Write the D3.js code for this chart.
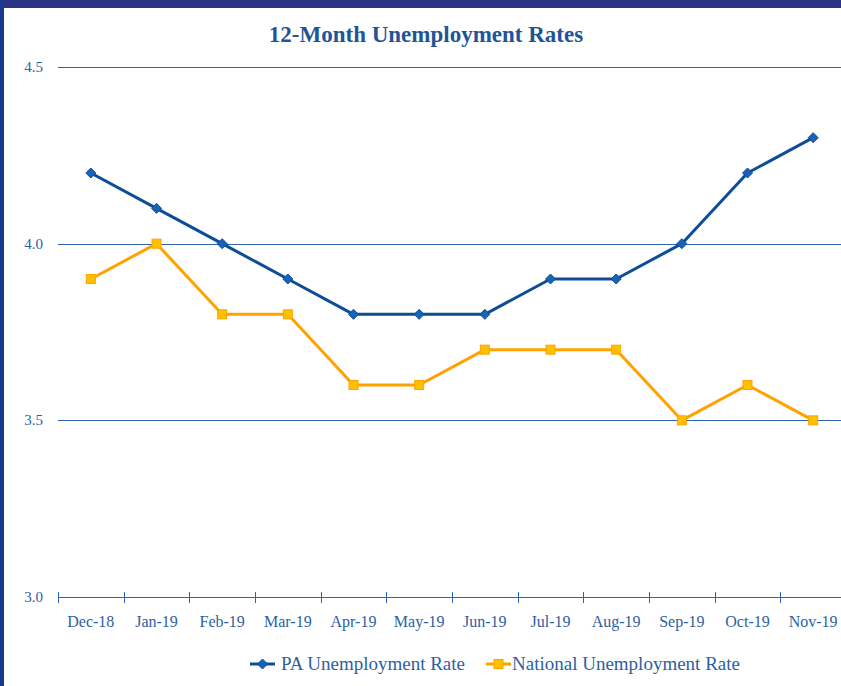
<!DOCTYPE html>
<html>
<head>
<meta charset="utf-8">
<script src="https://cdn.jsdelivr.net/npm/d3@7"></script>
<style>
  body { margin: 0; background: #fff; }
  text { font-family: "Liberation Serif", serif; }
</style>
</head>
<body>
<div id="chart"></div>
<script>
const width = 841;
const height = 686;

// data
const months = ["Dec-18", "Jan-19", "Feb-19", "Mar-19", "Apr-19", "May-19",
  "Jun-19", "Jul-19", "Aug-19", "Sep-19", "Oct-19", "Nov-19"];
const paRate = [4.2, 4.1, 4.0, 3.9, 3.8, 3.8, 3.8, 3.9, 3.9, 4.0, 4.2, 4.3];
const nationalRate = [3.9, 4.0, 3.8, 3.8, 3.6, 3.6, 3.7, 3.7, 3.7, 3.5, 3.6, 3.5];
const yTicks = [3.0, 3.5, 4.0, 4.5];
const seriesNames = ["PA Unemployment Rate", "National Unemployment Rate"];

const textColor = "#2d5fa3";
const gridColor = "#2f65a8";
const paLine = "#0d4d98", paMark = "#1763b8";
const natLine = "#ffa200", natMark = "#ffc000";

const svg = d3.select("#chart").append("svg")
  .attr("width", width)
  .attr("height", height);

// frame
svg.append("rect").attr("x", 0).attr("y", 0).attr("width", width).attr("height", 8).attr("fill", "#2b3185");
svg.append("rect").attr("x", 0).attr("y", 0).attr("width", 4).attr("height", height).attr("fill", "#173a8c");

const x = d3.scaleBand().domain(months).range([58, 846]);
const y = d3.scaleLinear().domain([3.0, 4.5]).range([597, 67]);

// title
svg.append("text")
  .attr("x", 426).attr("y", 42)
  .attr("text-anchor", "middle")
  .attr("font-size", 23).attr("font-weight", "bold")
  .attr("fill", "#1f5597")
  .text("12-Month Unemployment Rates");

// gridlines
svg.append("g").selectAll("line")
  .data(yTicks.filter(d => d > 3.0))
  .join("line")
  .attr("x1", 58).attr("x2", width)
  .attr("y1", d => Math.round(y(d)) + 0.5).attr("y2", d => Math.round(y(d)) + 0.5)
  .attr("stroke", gridColor).attr("stroke-width", 1);

// y labels
svg.append("g").selectAll("text")
  .data(yTicks)
  .join("text")
  .attr("x", 43).attr("y", d => y(d) + 5)
  .attr("text-anchor", "end")
  .attr("font-size", 15)
  .attr("fill", textColor)
  .text(d => d.toFixed(1));

// x axis
const xAxis = svg.append("g");
xAxis.append("line")
  .attr("x1", 58).attr("x2", width)
  .attr("y1", 597.5).attr("y2", 597.5)
  .attr("stroke", gridColor);
const tickPos = months.map(m => x(m));
xAxis.selectAll(".tick")
  .data(tickPos)
  .join("line")
  .attr("class", "tick")
  .attr("x1", d => Math.round(d) + 0.5).attr("x2", d => Math.round(d) + 0.5)
  .attr("y1", 592).attr("y2", 603)
  .attr("stroke", gridColor);
xAxis.selectAll("text")
  .data(months)
  .join("text")
  .attr("x", d => x(d) + x.bandwidth() / 2)
  .attr("y", 627)
  .attr("text-anchor", "middle")
  .attr("font-size", 16)
  .attr("fill", textColor)
  .text(d => d);

const cx = (d, i) => x(months[i]) + x.bandwidth() / 2;
const line = d3.line().x(cx).y(d => y(d));

// diamond marker: a square turned 45 degrees
const r = 5;
const diamondPath = `M0,${-r}L${r},0L0,${r}L${-r},0Z`;

// national series
svg.append("path").datum(nationalRate)
  .attr("d", line).attr("fill", "none")
  .attr("stroke", natLine).attr("stroke-width", 3).attr("stroke-linejoin", "round");
svg.append("g").selectAll("rect")
  .data(nationalRate)
  .join("rect")
  .attr("x", (d, i) => cx(d, i) - 4.5).attr("y", d => y(d) - 4.5)
  .attr("width", 9).attr("height", 9)
  .attr("fill", natMark).attr("stroke", natLine).attr("stroke-width", 1);

// PA series
svg.append("path").datum(paRate)
  .attr("d", line).attr("fill", "none")
  .attr("stroke", paLine).attr("stroke-width", 3).attr("stroke-linejoin", "round");
svg.append("g").selectAll("path")
  .data(paRate)
  .join("path")
  .attr("d", diamondPath)
  .attr("transform", (d, i) => `translate(${cx(d, i)},${y(d)})`)
  .attr("fill", paMark).attr("stroke", paLine).attr("stroke-width", 1);

// legend
const legend = svg.append("g");
const legendItems = [
  { name: seriesNames[0], x: 250, line: paLine, mark: paMark, shape: "diamond" },
  { name: seriesNames[1], x: 486, line: natLine, mark: natMark, shape: "square" }
];
legendItems.forEach(item => {
  const ly = 664;
  legend.append("line")
    .attr("x1", item.x).attr("x2", item.x + 25)
    .attr("y1", ly).attr("y2", ly)
    .attr("stroke", item.line).attr("stroke-width", 3);
  if (item.shape === "diamond") {
    legend.append("path").attr("d", diamondPath)
      .attr("transform", `translate(${item.x + 12.5},${ly})`)
      .attr("fill", item.mark).attr("stroke", item.line);
  } else {
    legend.append("rect")
      .attr("x", item.x + 12.5 - 4.5).attr("y", ly - 4.5)
      .attr("width", 9).attr("height", 9)
      .attr("fill", item.mark).attr("stroke", item.line);
  }
  legend.append("text")
    .attr("x", item.x + (item.shape === "diamond" ? 31 : 26)).attr("y", ly + 6)
    .attr("font-size", 19)
    .attr("fill", textColor)
    .text(item.name);
});
</script>
</body>
</html>
